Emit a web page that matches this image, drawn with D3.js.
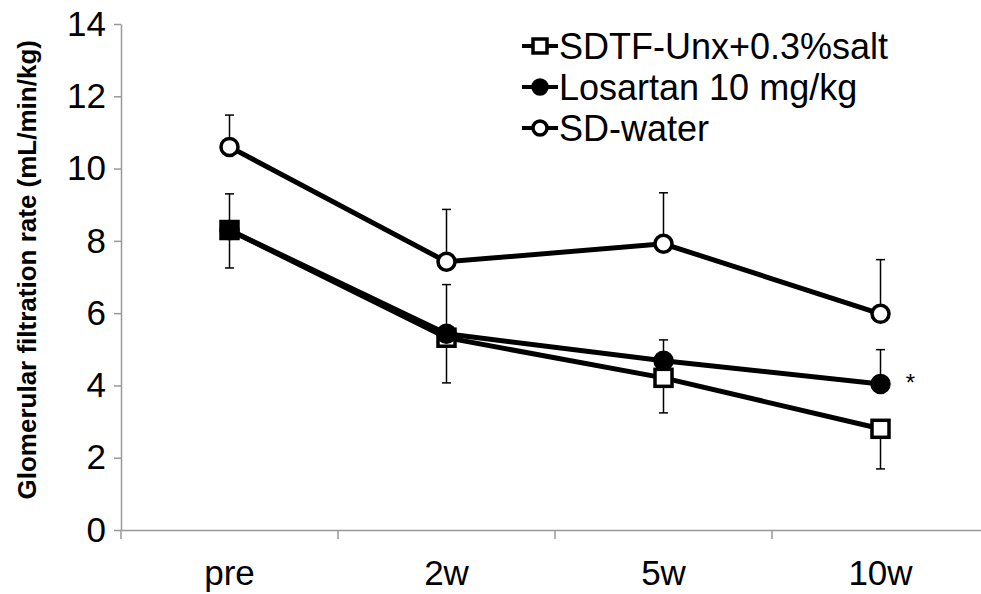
<!DOCTYPE html>
<html lang="en">
  <head>
    <meta charset="utf-8" />
    <title>GFR</title>
    <script src="https://d3js.org/d3.v7.min.js"></script>
    <style>
      body { margin: 0; background: #fff; }
      text { font-family: "Liberation Sans", Arial, sans-serif; }
    </style>
  </head>
  <body>
    <div id="container"></div>
    <script>
      var weeks = ["pre", "2w", "5w", "10w"];
      var seriesNames = ["SDTF-Unx+0.3%salt", "Losartan 10 mg/kg", "SD-water"];

      var unxMean = [8.3, 5.32, 4.21, 2.8];
      var unxErr = [1.05, 1.25, 0.97, 1.11];
      var losMean = [8.3, 5.43, 4.68, 4.04];
      var losErr = [1.0, 1.36, 0.58, 0.95];
      var waterMean = [10.6, 7.42, 7.92, 5.98];
      var waterErr = [0.88, 1.45, 1.41, 1.5];

      var yTicks = [0, 2, 4, 6, 8, 10, 12, 14];

      var width = 981;
      var height = 594;
      var axisColor = "#999";
      var font = "'Liberation Sans', Arial, sans-serif";

      var svg = d3
        .select("#container")
        .append("svg")
        .attr("width", width)
        .attr("height", height);

      var x = d3.scaleBand().domain(weeks).range([121, 989]);
      var y = d3.scaleLinear().domain([0, 14]).range([530, 24]);
      var cx = function (i) {
        return x(weeks[i]) + x.bandwidth() / 2;
      };

      // y axis
      var yAxis = svg
        .append("g")
        .attr("transform", "translate(121,0)")
        .call(d3.axisLeft(y).tickValues(yTicks).tickSize(7).tickPadding(8).tickSizeOuter(0));
      yAxis.select(".domain").attr("stroke", axisColor).attr("stroke-width", 1.5);
      yAxis.selectAll(".tick line").attr("stroke", axisColor).attr("stroke-width", 1.5);
      yAxis
        .selectAll(".tick text")
        .attr("fill", "#000")
        .style("font-size", "35px")
        .style("font-family", font);

      // x axis, ticks on the band edges
      var xAxis = svg
        .append("g")
        .attr("transform", "translate(0,530)")
        .call(d3.axisBottom(x).tickSize(0).tickPadding(30));
      xAxis.select(".domain").attr("stroke", axisColor).attr("stroke-width", 1.5);
      xAxis
        .selectAll(".tick text")
        .attr("fill", "#000")
        .style("font-size", "35px")
        .style("font-family", font);
      xAxis
        .selectAll(".edge")
        .data(weeks)
        .enter()
        .append("line")
        .attr("x1", function (d) { return x(d); })
        .attr("x2", function (d) { return x(d); })
        .attr("y1", 0)
        .attr("y2", 9)
        .attr("stroke", axisColor)
        .attr("stroke-width", 1.5);

      svg
        .append("text")
        .attr("transform", "translate(36," + y(7.2) + ") rotate(-90)")
        .attr("text-anchor", "middle")
        .style("font-size", "26px")
        .style("font-weight", "bold")
        .text("Glomerular filtration rate (mL/min/kg)");

      var series = [
        { name: seriesNames[0], mean: unxMean, err: unxErr, dir: 1, shape: "square", fill: "#fff" },
        { name: seriesNames[1], mean: losMean, err: losErr, dir: -1, shape: "circle", fill: "#000" },
        { name: seriesNames[2], mean: waterMean, err: waterErr, dir: -1, shape: "circle", fill: "#fff" }
      ];

      var line = d3
        .line()
        .x(function (d, i) { return cx(i); })
        .y(function (d) { return y(d); });

      function marker(g, shape, fill, px, py, size) {
        if (shape == "square") {
          g.append("rect")
            .attr("x", px - size)
            .attr("y", py - size)
            .attr("width", size * 2)
            .attr("height", size * 2)
            .attr("fill", fill)
            .attr("stroke", "#000")
            .attr("stroke-width", 3.5);
        } else {
          g.append("circle")
            .attr("cx", px)
            .attr("cy", py)
            .attr("r", size)
            .attr("fill", fill)
            .attr("stroke", "#000")
            .attr("stroke-width", 3.5);
        }
      }

      series.forEach(function (s) {
        var g = svg.append("g");

        // error bars: one side only (square down, circles up)
        s.mean.forEach(function (m, i) {
          var end = s.dir == 1 ? y(m - s.err[i]) : y(m + s.err[i]);
          g.append("line")
            .attr("x1", cx(i))
            .attr("x2", cx(i))
            .attr("y1", y(m))
            .attr("y2", end)
            .attr("stroke", "#000")
            .attr("stroke-width", 1.5);
          g.append("line")
            .attr("x1", cx(i) - 4.5)
            .attr("x2", cx(i) + 4.5)
            .attr("y1", end)
            .attr("y2", end)
            .attr("stroke", "#000")
            .attr("stroke-width", 1.5);
        });

        g.append("path")
          .datum(s.mean)
          .attr("d", line)
          .attr("fill", "none")
          .attr("stroke", "#000")
          .attr("stroke-width", 5);

        s.mean.forEach(function (m, i) {
          marker(g, s.shape, s.fill, cx(i), y(m), 8.5);
        });
      });

      // significance mark next to Losartan at 10w
      svg
        .append("text")
        .attr("x", cx(3) + 30)
        .attr("y", y(losMean[3]) + 7)
        .attr("text-anchor", "middle")
        .style("font-size", "24px")
        .text("*");

      // legend
      var legend = svg.append("g").attr("transform", "translate(522,46)");
      series.forEach(function (s, i) {
        var row = legend.append("g").attr("transform", "translate(0," + i * 41 + ")");
        row
          .append("line")
          .attr("x1", 0)
          .attr("x2", 36)
          .attr("y1", 0)
          .attr("y2", 0)
          .attr("stroke", "#000")
          .attr("stroke-width", 4);
        marker(row, s.shape, s.fill, 18, 0, 7);
        row
          .append("text")
          .attr("x", 37)
          .attr("y", 0)
          .attr("dy", "0.36em")
          .style("font-size", "36px")
          .text(s.name);
      });
    </script>
  </body>
</html>
